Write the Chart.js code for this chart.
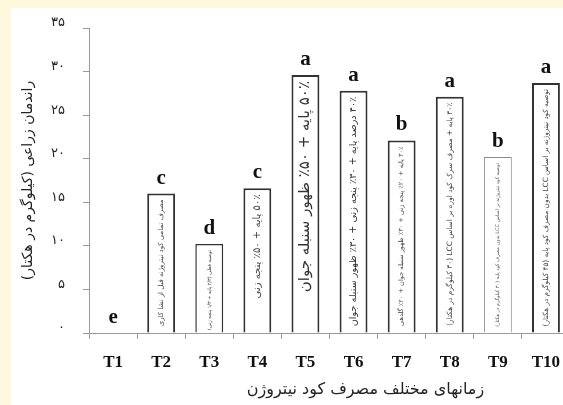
<!DOCTYPE html>
<html>
<head>
<meta charset="utf-8">
<script src="https://cdn.jsdelivr.net/npm/chart.js@4/dist/chart.umd.min.js"></script>
<style>
  html, body { margin: 0; padding: 0; width: 563px; height: 405px; overflow: hidden; background: #FEF9DC; }
  #paper { position: absolute; left: 11px; top: 8px; width: 600px; height: 420px; background: #ffffff; }
  #c { position: absolute; left: 0; top: 0; }
</style>
</head>
<body>
<div id="paper"></div>
<canvas id="c" width="590" height="405"></canvas>
<script>
// ---- data ----
const categories = ['T1', 'T2', 'T3', 'T4', 'T5', 'T6', 'T7', 'T8', 'T9', 'T10'];
const yieldValues = [0, 16.0, 10.2, 16.6, 29.6, 27.8, 22.1, 27.1, 20.2, 28.7];
const groupLetters = ['e', 'c', 'd', 'c', 'a', 'a', 'b', 'a', 'b', 'a'];
const treatmentNotes = [
  '',
  'مصرف تمامی کود نیتروژنه قبل از نشا کاری',
  'توصیه فعلی (۲/۳ پایه + ۱/۳ پنجه زنی)',
  '۵۰٪ پایه + ۵۰٪ پنجه زنی',
  '۵۰٪ پایه + ۵۰٪ ظهور سنبله جوان',
  '۴۰٪ درصد پایه + ۳۰٪ پنجه زنی + ۳۰٪ ظهور سنبله جوان',
  '۳۰٪ پایه + ۲۰٪ پنجه زنی + ۳۰٪ ظهور سنبله جوان + ۲۰٪ گلدهی',
  '۳۰٪ پایه + مصرف سرک کود اوره بر اساس LCC (۳۰ کیلوگرم در هکتار)',
  'توصیه کود نیتروژنه بر اساس LCC بدون مصرف کود پایه (۳۰ کیلوگرم در هکتار)',
  'توصیه کود نیتروژنه بر اساس LCC بدون مصرف کود پایه (۴۵ کیلوگرم در هکتار)'
];
const yTickLabels = ['۰', '۵', '۱۰', '۱۵', '۲۰', '۲۵', '۳۰', '۳۵'];
const yTitle = 'راندمان زراعی (کیلوگرم در هکتار)';
const xTitle = 'زمانهای مختلف مصرف کود نیتروژن';

// ---- styles ----
const noteMaxSize = [0, 10, 10, 10, 15, 13, 10, 10, 9, 10];
const noteColors = ['#444', '#444', '#333', '#444', '#333', '#333', '#444', '#444', '#555', '#444'];
const barBorderWidths = [0, 2, 1.5, 2, 2, 2, 2, 2, 1, 2];
const barBorderColors = ['#333', '#333', '#333', '#333', '#333', '#333', '#333', '#333', '#8a8a8a', '#333'];
const ARABIC_FONT = '"DejaVu Sans"';
const SERIF = '"Liberation Serif", "DejaVu Sans"';

const annotatePlugin = {
  id: 'annotate',
  afterDatasetsDraw(chart) {
    const ctx = chart.ctx;
    const meta = chart.getDatasetMeta(0);
    meta.data.forEach((bar, i) => {
      const p = bar.getProps(['x', 'y', 'base', 'width'], true);
      // group letter above the bar
      ctx.save();
      ctx.font = 'bold 21px ' + SERIF;
      ctx.fillStyle = '#111';
      ctx.textAlign = 'center';
      ctx.textBaseline = 'alphabetic';
      ctx.fillText(groupLetters[i], p.x, p.y - 10);
      ctx.restore();
      // rotated note inside the bar
      const txt = treatmentNotes[i];
      if (!txt) return;
      const avail = (p.base - p.y) - 12;
      let size = noteMaxSize[i];
      ctx.save();
      ctx.direction = 'rtl';
      ctx.font = size + 'px ' + ARABIC_FONT;
      let w = ctx.measureText(txt).width;
      if (w > avail) {
        size = Math.max(5, size * avail / w);
        ctx.font = size + 'px ' + ARABIC_FONT;
      }
      ctx.translate(p.x, p.y + 6);
      ctx.rotate(-Math.PI / 2);
      ctx.fillStyle = noteColors[i];
      ctx.textAlign = 'right';
      ctx.textBaseline = 'middle';
      ctx.fillText(txt, 0, 0);
      ctx.restore();
    });
    // x axis title (offset as in the reference)
    const area = chart.chartArea;
    ctx.save();
    ctx.direction = 'rtl';
    ctx.font = '16px ' + ARABIC_FONT;
    ctx.fillStyle = '#222';
    ctx.textAlign = 'center';
    ctx.textBaseline = 'middle';
    ctx.fillText(xTitle, (area.left + area.right) / 2 + 36, 390);
    ctx.restore();
  }
};

new Chart(document.getElementById('c'), {
  type: 'bar',
  data: {
    labels: categories,
    datasets: [{
      data: yieldValues,
      backgroundColor: '#ffffff',
      borderColor: barBorderColors,
      borderWidth: barBorderWidths,
      borderSkipped: 'start',
      categoryPercentage: 1,
      barPercentage: 0.58
    }]
  },
  options: {
    responsive: false,
    devicePixelRatio: 1,
    animation: false,
    layout: { padding: { left: 0, right: 20, top: 28, bottom: 0 } },
    plugins: { legend: { display: false }, tooltip: { enabled: false } },
    scales: {
      x: {
        afterFit(scale) { scale.height = 72; },
        grid: { display: true, drawOnChartArea: false, tickLength: 6, color: '#9a9a9a', offset: true },
        border: { display: true, color: '#9a9a9a', width: 1 },
        ticks: { color: '#111', font: { family: SERIF, size: 17, weight: 'bold' }, padding: 13 }
      },
      y: {
        min: 0, max: 35,
        afterFit(scale) { scale.width = 89; },
        grid: { display: true, drawOnChartArea: false, tickLength: 6, color: '#9a9a9a' },
        border: { display: true, color: '#9a9a9a', width: 1 },
        ticks: {
          stepSize: 5,
          color: '#222',
          padding: 18,
          labelOffset: -5,
          font: { family: ARABIC_FONT, size: 13 },
          callback: (v, idx) => yTickLabels[idx]
        },
        title: {
          display: true,
          text: yTitle,
          color: '#222',
          font: { family: ARABIC_FONT, size: 14 },
          padding: { top: 20, bottom: 0 }
        }
      }
    }
  },
  plugins: [annotatePlugin]
});
</script>
</body>
</html>
